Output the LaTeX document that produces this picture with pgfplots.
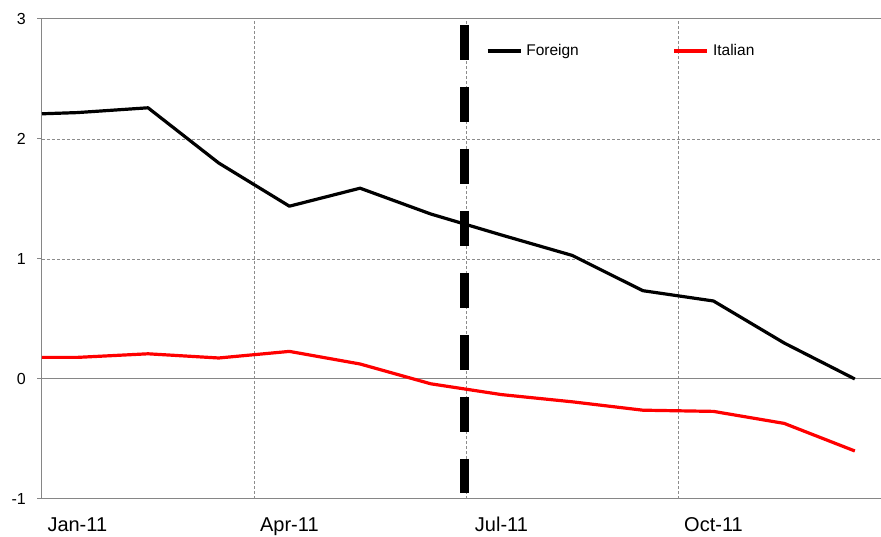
\documentclass[border=0pt]{standalone}
\usepackage{pgfplots}
\pgfplotsset{compat=1.18}
\usepackage{fontspec}
\setmainfont{Liberation Sans}
\definecolor{axisgray}{HTML}{868686}
\definecolor{gridgray}{HTML}{8C8C8C}
\definecolor{itred}{HTML}{FF0000}
\begin{document}
\begin{tikzpicture}
\begin{axis}[
  width=839pt, height=480pt, scale only axis,
  xmin=0, xmax=11.87, ymin=-1, ymax=3,
  axis x line=box, axis y line=left,
  axis line style={-, draw=axisgray, line width=1pt},
  /pgf/number format/assume math mode=true,
  ytick={-1,0,1,2,3},
  ytick style={draw=axisgray, line width=1pt},
  major tick length=5pt,
  tick align=outside,
  ytick pos=left,
  xtick={0.5,3.5,6.5,9.5},
  xticklabels={Jan-11,Apr-11,Jul-11,Oct-11},
  xtick style={draw=none},
  xticklabel style={font=\fontsize{20}{24}\selectfont, anchor=base, inner sep=0pt, yshift=-28pt},
  yticklabel style={font=\fontsize{16}{19}\selectfont, anchor=east, inner sep=0pt, xshift=-11pt},
  extra x ticks={3,6,9},
  extra x tick labels={},
  extra x tick style={grid=major, major grid style={draw=gridgray, line width=0.6pt, dash pattern=on 3pt off 2pt}},
  extra y ticks={1,2},
  extra y tick labels={},
  extra y tick style={grid=major, major tick length=0pt, major grid style={draw=gridgray, line width=0.6pt, dash pattern=on 3pt off 2pt}},
  clip=false,
  legend columns=2,
  legend image code/.code={\draw[#1] (0pt,0pt) -- (33pt,0pt);},
  legend style={at={(axis cs:6.28,2.733)}, anchor=west, draw=none, fill=none, inner sep=0pt,
    font=\fontsize{15.5}{18}\selectfont, nodes={inner sep=0pt},
    /tikz/every odd column/.append style={column sep=4pt},
    /tikz/every even column/.append style={column sep=94pt}},
]
\addplot[axisgray, line width=1pt, forget plot] coordinates {(0,0) (11.87,0)};
\addplot[black, forget plot, dash pattern=on 35pt off 27pt, line cap=butt, line width=9pt]
  coordinates {(5.98,2.95) (5.98,-0.95)};
\addplot[black, line width=3.2pt, line join=round] coordinates {
  (0,2.21) (0.5,2.22) (1.5,2.26) (2.5,1.80) (3.5,1.44) (4.5,1.59) (5.5,1.375)
  (6.5,1.20) (7.5,1.03) (8.5,0.736) (9.5,0.65) (10.5,0.30) (11.5,0.00)};
\addlegendentry{Foreign}
\addplot[itred, line width=3.2pt, line join=round] coordinates {
  (0,0.18) (0.5,0.18) (1.5,0.21) (2.5,0.175) (3.5,0.23) (4.5,0.125) (5.5,-0.04)
  (6.5,-0.13) (7.5,-0.19) (8.5,-0.26) (9.5,-0.27) (10.5,-0.37) (11.5,-0.60)};
\addlegendentry{Italian}
\coordinate (bl) at (rel axis cs:0,0);
\coordinate (tr) at (rel axis cs:1,1);
\end{axis}
\pgfresetboundingbox
\path ([xshift=-42pt,yshift=-38pt]bl) rectangle ([yshift=19pt]tr);
\end{tikzpicture}
\end{document}
